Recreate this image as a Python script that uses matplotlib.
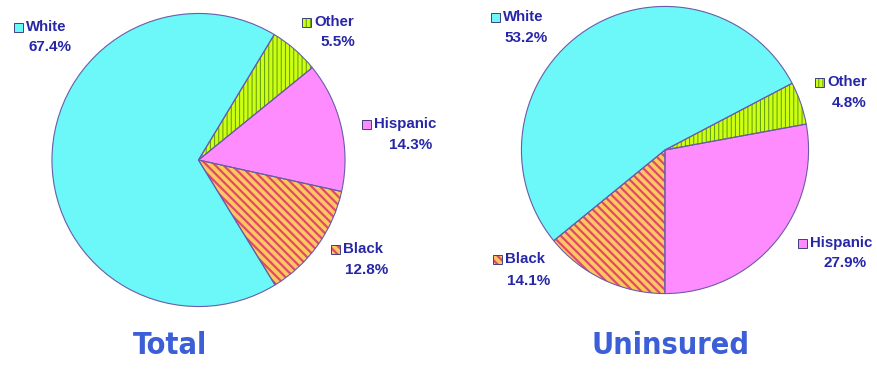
import matplotlib
matplotlib.use("Agg")
import matplotlib.pyplot as plt
from matplotlib.patches import Rectangle

# share of each group, same order in both pies
groups = ["Black", "Hispanic", "Other", "White"]
total_pct = [12.8, 14.3, 5.5, 67.4]
uninsured_pct = [14.1, 27.9, 4.8, 53.2]

W, H = 877, 370
fills = {"Black": "#FFC85E", "Hispanic": "#FF8CFF", "Other": "#CCFF11", "White": "#6CF7F8"}
hatches = {"Black": "\\\\\\\\", "Hispanic": None, "Other": "||||", "White": None}
hatch_cols = {"Black": "#DE4A6A", "Other": "#5E9A10"}
hatch_lw = {"Black": 1.6, "Other": 0.7}
outline = "#6A5CA8"
label_col = "#2626A8"
title_col = "#3C5FD8"


def px(x, y):
    return x / W, 1 - y / H


def style_patch(p, name):
    p.set_facecolor(fills[name])
    if hatches[name]:
        p.set_hatch(hatches[name])
        p.set_edgecolor(hatch_cols[name])
        if hasattr(p, "set_hatch_linewidth"):
            p.set_hatch_linewidth(hatch_lw[name])
    else:
        p.set_edgecolor(fills[name])
    p.set_linewidth(0)


def draw_pie(box, values, start):
    cx, cy, r = box
    ax = fig.add_axes([(cx - r) / W, 1 - (cy + r) / H, 2 * r / W, 2 * r / H])
    wedges, _ = ax.pie(values, startangle=start, counterclock=True, radius=1)
    for w, g in zip(wedges, groups):
        style_patch(w, g)
    # thin outlines drawn on top so the hatch colour stays separate
    ax.pie(values, startangle=start, counterclock=True, radius=1,
           wedgeprops=dict(fill=False, edgecolor=outline, linewidth=0.8))
    ax.set_xlim(-1.01, 1.01)
    ax.set_ylim(-1.01, 1.01)
    ax.set_aspect("equal")
    ax.axis("off")


def label(name, pct, mx, my, px_x, px_y):
    # little legend square, name beside it and the percentage below
    sq = Rectangle(px(mx, my + 4.5), 9 / W, 9 / H, transform=fig.transFigure)
    style_patch(sq, name)
    fig.patches.append(sq)
    fig.patches.append(Rectangle(px(mx, my + 4.5), 9 / W, 9 / H, transform=fig.transFigure,
                                 fill=False, edgecolor="#404080", linewidth=0.7))
    fig.text(*px(mx + 12, my), name, ha="left", va="center", fontsize=10.8,
             fontweight="bold", color=label_col, family=["Liberation Sans", "DejaVu Sans"])
    fig.text(*px(px_x, px_y), "{:.1f}%".format(pct), ha="center", va="center", fontsize=11,
             fontweight="bold", color=label_col, family=["Liberation Sans", "DejaVu Sans"])


fig = plt.figure(figsize=(W / 100, H / 100), dpi=100)
fig.patch.set_facecolor("white")

draw_pie((198.5, 160, 148), total_pct, -58.5)
draw_pie((665, 150, 145), uninsured_pct, -140.8)

tot = dict(zip(groups, total_pct))
label("White", tot["White"], 14, 27, 50, 47)
label("Other", tot["Other"], 302, 22, 338, 42)
label("Hispanic", tot["Hispanic"], 362, 124, 411, 145)
label("Black", tot["Black"], 331, 249, 367, 270)

uni = dict(zip(groups, uninsured_pct))
label("White", uni["White"], 491, 17, 526, 38)
label("Other", uni["Other"], 815, 82, 849, 103)
label("Hispanic", uni["Hispanic"], 798, 243, 845, 263)
label("Black", uni["Black"], 493, 259, 529, 281)

title_font = ["DejaVu Sans"]
fig.text(*px(170, 346), "Total", ha="center", va="center", fontsize=22,
         color=title_col, family=title_font, fontweight="bold", fontstretch="condensed")
fig.text(*px(671, 346), "Uninsured", ha="center", va="center", fontsize=22,
         color=title_col, family=title_font, fontweight="bold", fontstretch="condensed")

fig.savefig("out.png", dpi=100)
